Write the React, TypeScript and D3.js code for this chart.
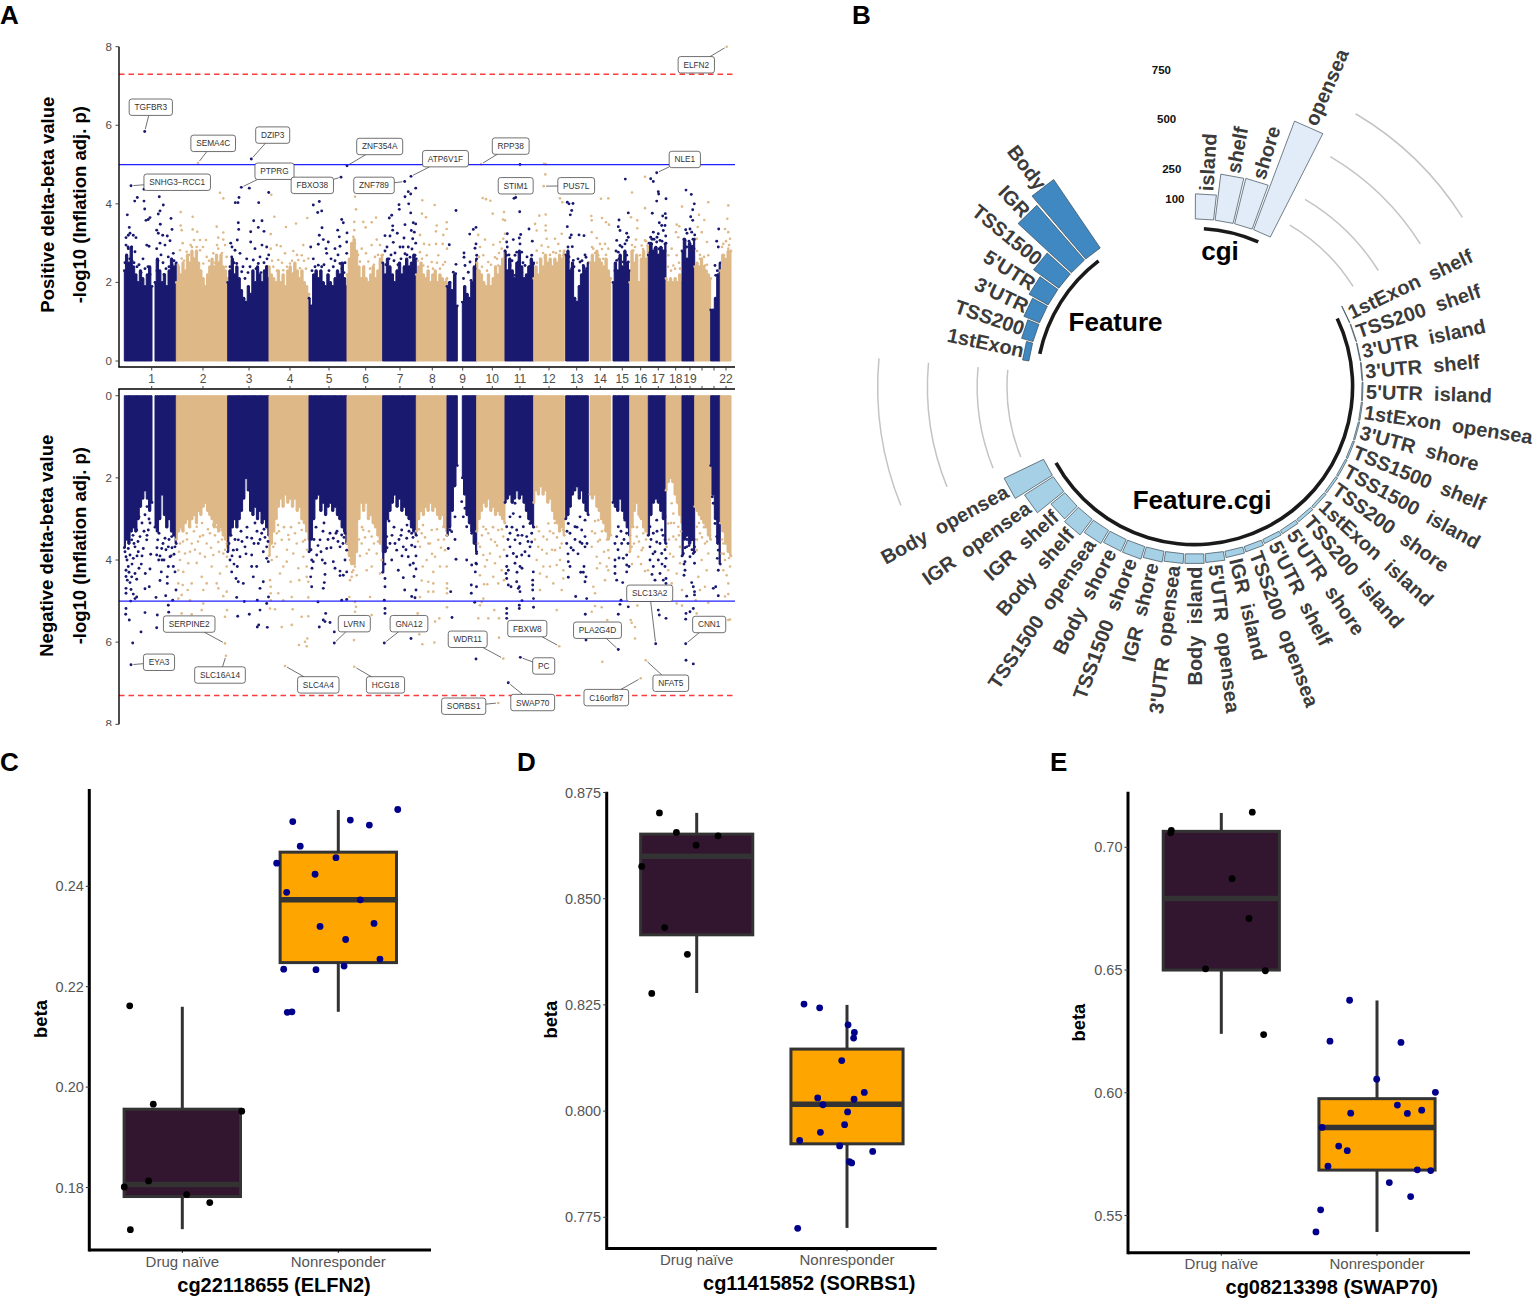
import * as d3 from 'd3'

const FONT = '"Liberation Sans", Arial, sans-serif'
const NAVY = '#191970'
const TAN = '#DEB887'

// Manhattan plots: position along the genome (0-616) and -log10 p
const chromLabels = ['1', '2', '3', '4', '5', '6', '7', '8', '9', '10', '11', '12', '13', '14', '15', '16', '17', '18', '19', '', '', '22']
const chromTicks = [32.7, 84, 130, 171, 210, 246.7, 281, 313.3, 343.7, 373.3, 401, 430, 457.7, 481.3, 503.3, 521.7, 539.3, 556.7, 571, 583, 595, 607]
const segRanges = [[5.3, 33], [36, 57.3], [57.3, 108.7], [108.7, 150], [150, 190], [190, 228], [228, 263.7], [263.7, 297.3], [297.3, 328], [328, 338.3], [343.3, 357.7], [357.7, 386], [386, 414.7], [414.7, 445.3], [446.7, 469.3], [471, 491.7], [494, 510.7], [510.7, 529.3], [529.3, 547], [547, 563], [563, 575.7], [575.7, 591.7], [591.7, 601.3], [601.3, 612]]
const segChrom = [1, 1, 2, 3, 4, 5, 6, 7, 8, 9, 9, 10, 11, 12, 13, 14, 15, 16, 17, 18, 19, 20, 21, 22]

// upper edge of the packed points in each chromosome segment
const topProfile = [
  [2.3, 2.7, 2.5, 2.9, 2.4, 2.2, 2.0, 2.3, 2.1, 1.9, 2.2, 2.4, 1.9],
  [2.0, 2.6, 2.3, 2.0, 2.2, 1.9, 2.3, 2.6, 2.4, 2.5],
  [2.0, 2.4, 2.2, 2.5, 2.3, 2.7, 2.5, 2.8, 2.6, 2.8, 2.5, 2.3, 2.1, 1.9, 2.2, 2.4, 2.6, 2.4, 2.7, 2.5, 2.7, 2.4, 2.3, 2.1],
  [2.0, 2.3, 2.6, 2.2, 2.4, 2.1, 1.8, 1.6, 1.5, 1.9, 1.7, 2.3, 2.0, 2.4, 2.2, 2.0, 2.3, 2.4, 2.1],
  [2.4, 2.2, 2.1, 2.0, 2.3, 2.0, 2.2, 1.9, 2.3, 2.4, 2.2, 2.5, 2.3, 2.1, 2.3, 2.0, 1.9, 1.7],
  [1.6, 1.4, 2.2, 2.3, 2.1, 2.3, 2.0, 1.9, 2.2, 2.0, 1.9, 2.1, 2.3, 2.2, 2.5, 2.1, 1.9],
  [2.2, 2.6, 3.0, 3.1, 2.8, 2.4, 2.1, 2.4, 2.1, 2.0, 2.2, 2.4, 2.1, 2.3, 2.6, 2.7],
  [2.5, 2.2, 2.6, 2.4, 2.2, 2.0, 2.3, 2.5, 2.2, 2.4, 2.6, 2.4, 2.5, 2.7, 2.6],
  [2.2, 2.4, 2.5, 2.2, 2.1, 2.3, 2.0, 2.2, 2.3, 2.0, 2.2, 2.1, 2.0, 2.1],
  [1.9, 2.0, 1.8, 2.2, 1.4],
  [1.5, 1.9, 1.7, 1.6, 2.0, 2.4, 2.6],
  [2.5, 2.3, 2.2, 2.0, 1.9, 2.2, 1.9, 2.1, 2.4, 2.2, 2.4, 2.6, 2.8],
  [2.8, 2.3, 2.6, 2.3, 2.1, 2.5, 2.8, 2.4, 2.1, 2.2, 2.4, 2.6, 2.5],
  [2.1, 2.4, 2.2, 2.6, 2.4, 2.7, 2.5, 2.6, 2.4, 2.6, 2.5, 2.7, 2.6, 2.8],
  [2.7, 2.8, 2.3, 2.5, 1.6, 1.5, 1.9, 2.2, 2.4, 2.3, 2.5],
  [2.5, 2.7, 2.5, 2.8, 2.6, 2.5, 2.4, 2.6, 2.3, 2.1],
  [2.0, 2.5, 2.3, 2.7, 2.4, 2.8, 2.5, 2.3],
  [2.0, 2.8, 2.5, 2.7, 2.0, 2.6, 2.8, 2.6, 2.9],
  [2.7, 3.0, 2.8, 2.9, 2.7, 2.9, 2.8, 3.0],
  [2.1, 2.0, 2.1, 2.0, 2.1, 2.0, 2.2, 2.0],
  [2.8, 3.1, 2.6, 3.0, 2.9, 3.1],
  [2.4, 2.5, 2.4, 2.6, 2.4, 2.3, 2.2, 2.1],
  [1.3, 1.3, 1.6, 2.2, 2.5],
  [2.3, 2.7, 2.6, 2.8, 2.8],
]

const bottomProfile = [
  [3.7, 3.5, 3.6, 3.3, 3.2, 3.3, 3.0, 2.7, 2.5, 2.3, 2.5, 2.8, 2.6],
  [3.2, 3.3, 3.0, 2.4, 2.9, 3.2, 3.0, 3.3, 3.4, 3.6],
  [3.5, 3.3, 3.2, 3.3, 3.1, 3.0, 3.2, 3.0, 2.9, 3.1, 2.8, 2.9, 2.7, 2.6, 2.8, 2.9, 3.0, 3.2, 3.1, 3.3, 3.2, 3.4, 3.5, 3.7],
  [3.8, 3.4, 3.2, 3.0, 3.2, 3.0, 2.8, 2.5, 2.0, 2.3, 2.8, 2.9, 2.7, 3.0, 2.8, 3.1, 3.0, 3.2, 3.4],
  [3.9, 3.6, 3.3, 3.0, 2.7, 2.5, 2.7, 2.4, 2.6, 2.5, 2.7, 2.5, 2.8, 2.7, 3.0, 3.1, 3.3, 3.5],
  [3.8, 3.5, 3.0, 2.5, 2.4, 2.8, 2.6, 2.9, 2.7, 2.6, 2.8, 2.7, 2.9, 3.0, 3.2, 3.3, 3.6],
  [3.6, 3.9, 4.1, 4.1, 3.8, 3.0, 2.6, 2.8, 2.6, 3.0, 2.9, 3.1, 3.2, 3.4, 3.6, 3.8],
  [4.3, 3.8, 3.0, 2.8, 2.6, 2.4, 2.7, 2.5, 2.8, 2.7, 2.9, 3.0, 3.2, 3.3, 3.4],
  [3.3, 3.0, 2.8, 2.9, 2.7, 2.8, 2.6, 2.8, 2.7, 2.9, 3.0, 2.9, 3.2, 3.3],
  [3.4, 3.2, 2.8, 2.2, 1.7],
  [2.0, 2.4, 2.9, 3.1, 3.3, 3.6, 3.8],
  [3.3, 3.0, 2.8, 2.6, 2.7, 2.5, 2.8, 2.7, 2.9, 2.8, 2.9, 3.0, 3.1],
  [2.6, 2.5, 2.4, 2.6, 2.5, 2.3, 2.5, 2.4, 2.6, 2.8, 3.0, 3.1, 3.2],
  [2.6, 2.3, 2.4, 2.2, 2.4, 2.3, 2.6, 2.5, 2.8, 3.0, 3.1, 3.3, 3.2, 3.4],
  [3.0, 2.9, 2.7, 2.4, 2.3, 2.2, 2.5, 2.3, 2.6, 2.8, 2.9],
  [2.4, 2.5, 2.4, 2.7, 2.8, 3.0, 3.1, 3.3, 3.5, 3.4],
  [2.6, 2.7, 2.8, 2.5, 2.8, 3.0, 3.2, 3.4],
  [3.8, 3.2, 2.8, 2.6, 2.9, 3.0, 3.2, 3.3, 3.4],
  [3.4, 2.9, 2.6, 2.5, 2.6, 2.8, 3.0, 3.6],
  [2.3, 2.1, 2.0, 2.1, 2.4, 2.6, 2.9, 3.1],
  [3.9, 3.5, 3.4, 3.6, 3.5, 3.8],
  [2.7, 2.8, 2.9, 3.0, 3.1, 3.2, 3.4, 3.5],
  [1.7, 2.4, 3.0, 3.6, 4.1],
  [3.1, 3.3, 3.6, 3.8, 3.9],
]

const topNavy = [
  [25.7, 5.84], [12, 4.46], [25, 4.37], [132.3, 5.14], [122.3, 4.42], [130.3, 4.4], [149.7, 4.29], [222, 4.68], [228, 4.97],
  [8.3, 3.72], [10.3, 3.4], [15.7, 4.07], [18.3, 4.16], [25, 4.07], [25.7, 3.87], [27, 3.58], [31, 3.65], [29.3, 3.6], [40.3, 4.18], [44.3, 3.97], [41, 3.82], [39.3, 3.74], [52, 3.63], [41.3, 3.48], [53, 3.35], [37.7, 3.33], [39.3, 3.25], [43.7, 3.2], [48.3, 3.18], [9.3, 3.2], [14.3, 3.2], [17, 3.14], [11, 3.25], [7, 3.14], [7, 2.95], [9.3, 2.86], [12.7, 2.9], [16, 2.78], [27.7, 2.95], [30, 2.92], [41, 3], [37.7, 2.86], [46, 2.95], [51, 3.06], [54.3, 2.74], [49.3, 2.65], [8, 2.6], [13, 2.55], [20, 2.45], [24, 2.6], [29, 2.4], [39, 2.55], [44, 2.5], [53, 2.45], [47, 2.35],
  [6, 2.5], [9, 2.9], [11, 2.6], [15, 2.5], [18, 2.4], [22, 2.25], [26, 2.35], [31, 2.2], [38, 2.3], [42, 2.7], [45, 2.2], [50, 2.4], [55, 2.55],
  [119, 4.03], [120, 4.16], [116.3, 4.03], [119.3, 3.52], [119.7, 3.35], [134.7, 3.57], [143, 3.57], [139.3, 3.4], [131.7, 3.29], [145, 3.3], [139.7, 4.03], [118.3, 3.08], [111.7, 3], [131.7, 3.03], [143, 2.95], [147.7, 2.9], [136, 2.86], [116, 2.82], [121, 2.74], [112.7, 2.65], [149.7, 2.7], [127.7, 2.6], [134.3, 2.57], [139.3, 2.48], [147.7, 2.4], [117.7, 2.48], [111, 2.4], [131, 2.4], [122.7, 2.27], [126, 2.1], [142, 2.25],
  [113, 2.9], [115, 2.5], [124, 2.4], [129, 2.25], [137, 2.35], [141, 2.65], [145, 2.5], [148, 2.6],
  [194.3, 3.97], [200.3, 4.06], [198.7, 3.78], [202.7, 3.82], [222.7, 3.6], [224.3, 3.52], [203, 3.39], [218.7, 3.33], [228, 3.26], [220.3, 3.16], [200.3, 3.2], [204.3, 3.09], [216, 2.86], [191.7, 2.9], [199.3, 2.97], [209.3, 3.03], [227.7, 3.03], [221, 2.92], [207, 2.86], [227.7, 2.74], [194.3, 2.6], [207.7, 2.74], [199.3, 2.44], [221, 2.48], [214.3, 2.4], [202.7, 2.4], [210, 2.3], [225, 2.25],
  [193, 2.3], [196, 2.4], [205, 2.45], [212, 2.6], [216, 2.55], [219, 2.7], [223, 2.35], [226, 2.5],
  [280, 3.98], [280.3, 3.86], [270.3, 3.64], [272.7, 3.71], [273.7, 3.44], [266, 3.19], [271, 3.18], [273.7, 3.33], [278.3, 3.25], [274.3, 3.02], [266, 2.8], [292, 4.7], [285.7, 4.57], [296.7, 4.4], [289.3, 4.31], [291.7, 4.25], [286, 4.18], [289.7, 4], [291.7, 3.77], [294.3, 3.52], [296.7, 3.49], [286, 3.47], [292.3, 3.32], [295.3, 3.28], [285, 3.13], [293.7, 3.11], [296.7, 3], [289.3, 2.9], [296, 2.69], [286, 2.73], [291, 2.64], [270, 2.6], [276, 2.75], [282, 2.6], [267, 2.45], [279, 2.45],
  [268, 2.9], [272, 2.7], [275, 2.55], [281, 2.9], [284, 2.9], [288, 2.7], [293, 2.85], [295, 2.55],
  [337, 3.83], [330.3, 2.96], [337, 2.46], [334.3, 2.26], [336.7, 2.22], [331, 2], [357, 3.4], [354.3, 3.35], [350.7, 3.23], [357, 2.98], [356, 2.87], [345, 2.75], [345, 2.64], [357.7, 2.69], [351, 2.52], [346, 2.43], [356, 2.35], [349.3, 2.26], [344.5, 2.1], [352, 2.05],
  [401, 5], [395, 4.14], [396.7, 4.16], [400.7, 3.8], [410, 3.36], [388.3, 3.24], [401.7, 3.22], [394.3, 3.09], [400.3, 3.13], [387.7, 3.03], [413.3, 3.05], [388.3, 2.9], [401, 2.98], [397.7, 2.77], [396, 2.69], [412.7, 2.69], [387.7, 2.69], [402.7, 2.77], [412.7, 2.56], [391, 2.43], [399.3, 2.52], [406, 2.43], [414.3, 2.47], [389.3, 2.26], [396, 2.18], [409.3, 2.18], [402.7, 2.26],
  [390, 2.7], [393, 2.55], [398, 2.35], [404, 2.5], [408, 2.65], [411, 2.4],
  [448.3, 4.04], [450, 4], [454, 4.01], [452.7, 3.83], [451.3, 3.72], [448.3, 3.42], [452.3, 3.21], [451, 3.14], [460, 3.21], [465, 3.19], [449, 2.9], [453.3, 2.91], [448.7, 2.69], [454.3, 2.56], [449.3, 2.52], [467, 2.64], [461, 2.52], [464.3, 2.43], [467.7, 2.35], [452.7, 2.35], [460.3, 2.3], [462.7, 2.18],
  [450, 2.65], [455, 2.4], [463, 2.55], [466, 2.7], [459, 2.6],
  [506.3, 4.63], [509.3, 3.77], [500, 3.59], [499.3, 3.42], [501, 3.32], [507.7, 3.25], [509.3, 3.15], [507.7, 3.07], [497.7, 3.07], [501, 2.94], [506, 2.98], [499.3, 2.77], [507.7, 2.69], [497.7, 2.56], [504.3, 2.52], [509.3, 2.52], [496, 2.3], [502.7, 2.35], [509.3, 2.26],
  [497, 2.8], [500, 2.6], [503, 2.9], [506, 2.6],
  [531.7, 4.64], [534.3, 4.57], [537.7, 4.79], [539.3, 4.31], [539.7, 4.25], [537.7, 4.07], [547, 4.13], [533.3, 3.76], [546.3, 3.75], [543.7, 3.69], [547, 3.64], [540.3, 3.52], [542.7, 3.45], [546, 3.45], [534.3, 3.28], [531.7, 3.15], [539.3, 3.24], [544.3, 3.32], [546.7, 3.18], [532.7, 2.98], [537.7, 3.03], [541, 3.07], [546, 2.98], [531, 2.77], [536, 2.86], [542.7, 2.81], [544.3, 2.69],
  [530, 3], [533, 3.1], [535, 3.1], [538, 3.15], [540, 2.85], [543, 3.05], [546, 2.8],
  [567, 4.35], [572.3, 4.24], [575.3, 4], [573.7, 3.85], [571.7, 3.67], [573.7, 3.58], [566.7, 3.34], [571, 3.36], [572.7, 3.28], [575.7, 3.21], [566, 3.07], [567.7, 2.9], [572.7, 2.92], [575, 2.86], [565, 2.77],
  [565, 3.1], [568, 3.25], [570, 3.05], [574, 3.1],
  [599.7, 3.36], [597.7, 3.05], [599.3, 2.9], [596, 2.43], [598.3, 2.3], [596.7, 2.18],
]

const topTan = [
  [79, 5.04], [101, 4.28], [104.3, 4.14], [61.7, 3.79], [73.7, 3.67], [61.7, 3.45], [62.7, 3.33], [73.7, 3.35], [78.3, 3.29], [97.7, 3.42], [104.3, 3.27], [99.3, 3.14], [104.3, 3.09], [81, 3.08], [75, 3.08], [87, 3.08], [63.7, 3], [71.7, 2.95], [77.7, 2.9], [99.3, 2.86], [106, 2.95], [61, 2.82], [67.7, 2.78], [81, 2.82], [94.3, 2.74], [107.7, 2.65], [87.7, 2.65], [62.7, 2.61], [74.3, 2.61], [101, 2.53], [84.3, 2.48], [92.7, 2.4],
  [59, 2.45], [65, 2.55], [70, 2.7], [73, 2.9], [78, 2.75], [84, 2.9], [90, 2.55], [96, 2.5], [98, 2.95], [103, 2.75], [107, 2.4],
  [152.3, 4.23], [155.3, 3.67], [167, 3.41], [177, 3.5], [188.3, 3.64], [151.7, 3.23], [151.7, 2.86], [157.7, 2.95], [161.7, 2.92], [166, 2.74], [174.3, 2.8], [184.3, 2.95], [182.7, 2.69], [189.3, 2.61], [179.3, 2.57], [171, 2.48], [159.3, 2.57], [154.3, 2.4], [164.3, 2.31], [181, 2.36], [174.3, 2.23],
  [153, 2.55], [158, 2.3], [163, 2.5], [168, 2.4], [173, 2.55], [178, 2.7], [185, 2.55], [187, 2.35],
  [236, 4.18], [237, 3.86], [235.3, 3.54], [235.3, 3.33], [244.3, 3.54], [252.7, 3.53], [257, 3.65], [246.7, 3.4], [234.3, 3.16], [236, 2.99], [257.7, 3.09], [242.7, 2.86], [252.7, 2.95], [261, 2.95], [247, 2.74], [256, 2.65], [262.7, 2.69], [241, 2.53], [249.3, 2.53],
  [231, 2.4], [239, 2.7], [245, 2.4], [251, 2.35], [255, 2.45], [259, 2.7],
  [303.3, 4.09], [315.7, 3.97], [303, 3.75], [307, 3.66], [327.7, 3.53], [317.7, 3.45], [317, 3.3], [327.7, 3.36], [301, 3.21], [324.3, 3.21], [305, 2.98], [310.3, 2.96], [317, 2.98], [323.7, 2.98], [328, 2.86], [301, 2.77], [307.7, 2.69], [319.3, 2.69], [312.7, 2.52], [326, 2.52], [304.3, 2.43], [321, 2.35],
  [299, 2.55], [303, 2.6], [309, 2.4], [314, 2.35], [318, 2.5], [324, 2.45],
  [362, 5.01], [363.7, 4.15], [367, 4.12], [371.3, 4.08], [373.7, 3.75], [385, 3.79], [384, 3.6], [386, 3.58], [359.3, 3.21], [366, 3.09], [386, 3.24], [384.3, 3.11], [361, 2.9], [374.3, 2.96], [381, 3.03], [364.3, 2.69], [376, 2.64], [382.7, 2.86], [369.3, 2.52], [379.3, 2.43],
  [360, 2.65], [363, 2.4], [368, 2.3], [372, 2.45], [378, 2.6], [380, 2.75],
  [425, 5.02], [426.7, 5.01], [426.3, 4.75], [424.7, 4.45], [441, 4.14], [443.3, 4.04], [420.3, 3.7], [426.7, 3.73], [416, 3.49], [426.7, 3.45], [426.7, 3.32], [417.7, 3.32], [442.7, 3.24], [436, 3.11], [427.7, 3.11], [422.7, 2.94], [417.7, 2.81], [429.3, 2.9], [439.3, 2.98], [434.3, 2.77], [444.3, 2.69], [421, 2.6], [426, 2.64],
  [418, 2.5], [424, 2.75], [431, 2.7], [437, 2.75], [441, 2.8],
  [482, 4.13], [489.3, 4.14], [472.3, 3.69], [472.7, 3.58], [483, 3.64], [487, 3.53], [490, 3.47], [472.7, 3.28], [477.7, 3.13], [481, 2.98], [486, 2.98], [474.3, 2.86], [489.3, 2.86], [479.3, 2.69], [484.3, 2.6], [472.7, 2.52],
  [473, 2.9], [476, 2.75], [483, 2.85], [487, 2.7],
  [513, 4.29], [526, 4.69], [526, 3.89], [512, 3.66], [518.3, 3.58], [518.3, 3.38], [517, 3.09], [526, 3.07], [514.3, 2.81], [522.7, 2.94], [528.3, 2.94], [521, 2.69],
  [513, 2.95], [516, 2.9], [524, 2.85], [527, 3.05],
  [557.7, 3.47], [560.3, 3.43], [557, 3.28], [559.3, 3.15], [563, 3.93], [552.7, 2.86], [557.7, 2.69], [549.3, 2.69], [554.3, 2.43], [561, 2.35],
  [549, 2.4], [552, 2.3], [556, 2.35], [560, 2.5],
  [589.3, 4.04], [580, 3.72], [585.3, 3.59], [578.7, 3.41], [582.7, 3.28], [588, 3.03], [577.7, 3.11], [589.3, 2.69], [581, 2.6], [586, 2.43], [579.3, 2.35],
  [578, 2.8], [581, 2.7], [585, 2.65], [588, 2.45],
  [609.3, 3.96], [608.3, 3.62], [606, 3.36], [609.3, 3.28], [604.3, 2.98], [611, 3.11], [609.3, 2.86], [605, 2.69], [611, 2.52], [607.7, 8],
  [603, 2.9], [607, 3.05], [610, 2.95],
]

const bottomNavy = [
  [12, 6.55], [215.3, 6.02], [265.3, 6.02], [13.7, 6.02],
  [7, 5.18], [6.7, 5.32], [10.3, 5.46], [11.7, 5], [22, 5.75], [26, 5.28], [7, 4.69], [7, 4.81], [12, 4.72], [14.3, 4.83], [17.7, 4.9], [16, 4.94], [26, 4.7], [30.3, 4.65], [8.3, 4.49], [12.7, 4.41], [17.7, 4.47], [7, 4.25], [9.3, 4.16], [16, 4.33], [22.3, 4.1], [26.3, 4.33], [31, 4.22], [14.3, 3.96], [7, 3.92], [11, 3.88], [19.3, 3.8], [31.7, 3.86], [24.3, 3.72], [16, 3.68], [9.3, 3.72], [27.7, 3.51], [21, 3.43], [12.7, 3.51], [17.7, 3.27], [29.3, 3.27], [23, 3.1], [26, 2.9], [30, 3.0], [20, 2.95], [28, 2.7],
  [6, 3.8], [8, 4.0], [10, 4.3], [13, 4.1], [15, 3.6], [18, 3.9], [20, 4.2], [23, 3.9], [25, 3.3], [28, 3.4], [31, 3.1], [7, 4.4], [11, 4.55], [14, 3.4], [19, 3.55],
  [37, 4.91], [46.7, 4.87], [53.7, 4.98], [57, 4.73], [48.3, 4.57], [48.3, 4.41], [41, 4.5], [42.3, 4.29], [54.3, 4.16], [56, 4.29], [49.3, 4.16], [39.7, 4], [45, 4], [51, 3.92], [37.7, 3.88], [55, 3.86], [42.7, 3.72], [49.3, 3.68], [56, 3.68], [38.7, 3.51], [46, 3.47], [52.7, 3.43], [38.3, 5.34], [49.3, 5.1], [49.7, 5.27], [37.7, 5.65],
  [38, 3.7], [41, 3.9], [44, 3.6], [47, 3.75], [50, 3.5], [53, 3.7], [40, 3.35], [52, 3.9], [43, 4.0],
  [117.7, 4.91], [118.7, 5.37], [130.3, 5.32], [138.3, 5.63], [139.7, 5.58], [141, 5.22], [148.3, 5.64], [147.7, 5.06], [138.3, 4.98], [125.3, 5.01], [149.5, 4.9], [144.3, 4.53], [141, 4.69], [117, 4.45], [119.3, 4.53], [124.3, 4.57], [112.7, 4.29], [118.3, 4.16], [132.7, 4.16], [137.7, 4.16], [134.3, 4.41], [147.7, 3.96], [149.3, 4.04], [111, 4], [121, 3.92], [132.7, 3.88], [144.3, 3.8], [114.3, 3.76], [126, 3.68], [139.3, 3.6], [147.7, 3.68], [119.3, 3.51], [132.7, 3.47], [112, 3.4], [142.7, 3.35], [128, 3.2], [136, 3.1], [145, 3.25], [122, 3.3],
  [110, 3.6], [113, 3.9], [116, 3.5], [118, 3.75], [123, 3.55], [128, 3.45], [135, 3.6], [138, 3.3], [141, 3.5], [146, 3.45], [149, 3.55], [127, 3.85], [115, 4.1],
  [199, 5.02], [206.7, 5.3], [200.3, 5.63], [204.3, 5.46], [206, 5.5], [211, 5.52], [215.3, 5.75], [222.7, 4.98], [227.7, 4.96], [204.3, 4.69], [205.3, 4.55], [206, 4.35], [227.7, 4.29], [221, 4.27], [221, 4.38], [224.3, 4.37], [192.7, 4], [194.3, 4.04], [203.3, 4], [206, 4.08], [214.3, 4.04], [226, 4], [216, 4.2], [197.7, 3.88], [207.7, 3.72], [221, 3.68], [227.7, 3.76], [201, 3.51], [214.3, 3.47], [211, 3.35], [222.7, 3.39], [192.7, 4.65], [191.7, 4.41], [197, 3.2], [205, 3.1], [218, 3.3], [225, 3.45],
  [192, 3.75], [195, 3.5], [199, 3.65], [204, 3.3], [209, 3.5], [212, 3.7], [217, 3.35], [219, 3.55], [224, 3.6], [226, 3.35], [202, 3.8], [193, 4.2],
  [266, 4.45], [266, 4.65], [265.3, 4.98], [266, 5.18], [266, 5.3], [279.3, 4.25], [272.7, 4], [277.7, 3.76], [271, 3.6], [267.7, 3.43], [292, 5.91], [292.7, 4.89], [296, 4.92], [284.3, 4.43], [297, 4.22], [291, 4.12], [294.3, 4.08], [285.7, 4.73], [297, 4.73], [289.3, 3.92], [284.3, 3.68], [292.7, 3.64], [296, 3.68], [287.7, 3.47], [292.7, 3.35], [282.7, 3.27], [275, 3.2], [270, 3.05], [288, 3.15],
  [266, 4.1], [268, 3.7], [273, 3.4], [276, 3.6], [280, 3.5], [283, 3.9], [287, 3.75], [290, 3.3], [294, 3.45], [297, 3.9], [282, 3.4], [295, 4.4],
  [333, 5.4], [331.7, 4.77], [357, 6.41], [355.7, 5.03], [352.3, 4.61], [352.3, 4.81], [357.5, 4.65], [356.3, 4.29], [357.5, 4.1], [357, 4.08], [347.7, 4], [352.7, 4.12], [357.5, 3.84], [329.3, 3.72], [337, 3.98], [336, 3.5], [331, 3.27], [332.7, 3.31], [329.3, 2.99], [336, 2.95], [331, 2.62], [344.3, 2.95], [347.7, 3.19], [352.7, 3.35], [356, 3.51], [346, 2.74], [351, 2.95], [342.7, 2.58],
  [387.7, 5.18], [387.7, 5.3], [387.7, 5.42], [400.3, 5.1], [400.3, 5.18], [403, 4.99], [414.5, 5.15], [414.5, 4.94], [401.3, 6.37], [389.3, 6.99], [389.3, 4.61], [392, 4.65], [397.7, 4.53], [400.3, 4.65], [401, 4.77], [399.3, 4.69], [413.7, 4.49], [413.7, 4.61], [413.7, 4.73], [387.7, 4.45], [387, 4.33], [387.7, 4.16], [389.3, 4.25], [396, 4.08], [401, 4.16], [397.7, 3.92], [394.3, 3.84], [402.7, 3.88], [412.7, 3.56], [411, 3.68], [414.3, 4.29], [391, 3.68], [396, 3.51], [401, 3.6], [407.7, 3.43], [412.7, 3.35], [391, 3.35], [397.7, 3.27], [404.3, 3.19], [387.7, 3.19], [411, 3.11], [394.3, 2.87], [401, 2.95], [407.7, 2.78], [391, 2.95], [396, 2.62],
  [389, 3.5], [393, 3.2], [399, 3.4], [403, 3.4], [406, 3.8], [409, 3.55], [388, 3.9], [398, 4.3], [403, 4.2], [410, 3.9],
  [456.7, 4.89], [467.7, 4.94], [466.3, 5.32], [467, 5.95], [449.3, 4.42], [451, 4.16], [449.3, 4.04], [466, 4.53], [467, 4.41], [464.3, 4.3], [461.7, 4.3], [465, 4.16], [454.3, 3.76], [466, 3.68], [461, 3.56], [447.7, 3.6], [451, 3.35], [462.7, 3.27], [466, 3.43], [456, 3.19], [449.3, 3.11], [461, 2.95], [466, 3.03],
  [448, 3.3], [452, 3.7], [456, 3.5], [459, 3.85], [463, 3.6], [468, 3.6], [449, 3.85], [458, 3.2],
  [499.3, 6.18], [501, 5.08], [502, 4.98], [499.3, 5.32], [509.3, 5.14], [503.7, 4.55], [497.7, 4.49], [496, 4.33], [496, 4.16], [496, 4], [507.7, 4.29], [510, 4.16], [507.7, 3.88], [504.3, 3.96], [507.7, 4.12], [502.7, 3.6], [507.7, 3.35], [497.7, 3.43], [499.3, 3.19], [506, 3.03],
  [496, 3.6], [499, 3.75], [502, 3.3], [505, 3.5], [509, 3.6], [500, 3.95],
  [536.7, 6.04], [539.3, 5.22], [540.3, 5.34], [547, 5.42], [547, 4.45], [547, 4.57], [536, 4.49], [544.3, 4.49], [541, 4.33], [546, 4.16], [534.3, 4.16], [531, 4], [539.3, 4], [547, 3.96], [536, 3.8], [542.7, 3.84], [531, 3.68], [537.7, 3.56], [546, 3.51], [534.3, 3.35], [542.7, 3.27], [531, 3.19], [537.7, 3.03], [546, 2.95],
  [532, 3.5], [534, 3.85], [538, 3.3], [541, 3.6], [544, 3.4], [546, 3.75], [533, 4.35], [543, 4.1],
  [566.7, 6.04], [567, 6.44], [574.3, 6.53], [566.7, 5.44], [567, 5.3], [571, 5.26], [574.3, 5.18], [567.7, 4.88], [572.7, 4.55], [574.3, 4.65], [575.5, 4.77], [575.5, 4.85], [565, 4.37], [566, 4.25], [575.5, 4.08], [566, 4.04], [571, 3.92], [574.3, 3.84], [564.3, 3.84], [567.7, 3.68], [575.5, 3.68], [572.7, 3.51], [566, 3.43],
  [565, 4.1], [568, 3.5], [570, 3.65], [573, 3.75], [575, 3.5], [566, 3.7],
  [594.3, 4.69], [596.7, 4.65], [599.3, 4.25], [599.3, 4.87], [598.3, 3.96], [599.3, 3.76], [597.7, 3.43], [596, 3.11], [593.3, 2.46], [594.3, 2.62], [597.7, 2.87], [599.3, 3.27],
]

const bottomTan = [
  [106, 6.03], [107, 6.33], [166, 6.58], [235.3, 6.6], [384.3, 6.4], [440.3, 6.1], [483.3, 6.48], [526.7, 6.44], [521.7, 6.88], [379.3, 7.48],
  [59.3, 4.94], [62.7, 4.85], [68.7, 4.73], [59.3, 4.57], [63.7, 4.61], [72.7, 4.57], [82.7, 4.41], [87.7, 4.57], [84.3, 4.73], [97.7, 4.57], [107.7, 4.77], [104.3, 4.88], [99.3, 4.69], [59.3, 4.25], [64.3, 4.29], [77.7, 4.07], [86, 3.92], [92.7, 4.16], [101, 4.33], [107.7, 4.16], [62.7, 5.3], [72.7, 5.32], [82.7, 5.22], [106, 5.38], [108, 5.22], [84.3, 5.06], [71, 4.98], [61, 4], [69.3, 4.08], [81, 3.84], [94.3, 3.88], [104.3, 3.84], [108, 3.92], [66, 3.84], [72.7, 3.6], [87.7, 3.6], [99.3, 3.56], [107.7, 3.6], [61, 3.6], [81, 3.43], [91, 3.35], [67.7, 3.35], [102.7, 3.27], [77.7, 3.19], [94.3, 3.15],
  [60, 3.8], [64, 3.55], [68, 3.5], [71, 3.8], [75, 3.3], [79, 3.55], [84, 3.4], [89, 3.25], [92, 3.7], [96, 3.4], [100, 3.8], [103, 3.5], [106, 3.75], [63, 3.25], [70, 3.15], [83, 3.1], [98, 3.2], [76, 3.75],
  [151.7, 4.65], [151.7, 4.81], [151.7, 4.98], [151, 5.18], [156, 5.2], [173.7, 5.2], [182.7, 5.38], [189.3, 5.37], [162.7, 5.63], [172.7, 5.58], [180, 6.07], [186, 5.99], [188.3, 5.91], [187.7, 6.1], [172.7, 4.9], [189.3, 4.91], [164.3, 4.98], [159.3, 4.81], [171.7, 4.53], [180.3, 4.49], [187.7, 4.41], [189.3, 4.53], [151, 4.49], [161, 4.33], [164.3, 4.16], [179.3, 4.2], [187.7, 4.16], [152.7, 4], [157.7, 3.92], [167.7, 4.04], [174.3, 3.84], [184.3, 3.92], [154.3, 3.68], [162.7, 3.51], [177.7, 3.6], [186, 3.51], [169.3, 3.39], [182.7, 3.27], [157.7, 3.35],
  [153, 3.55], [156, 3.6], [160, 3.3], [165, 3.2], [170, 3.5], [172, 3.2], [176, 3.35], [180, 3.1], [184, 3.55], [188, 3.75], [159, 3.15], [168, 3.75],
  [236, 5.26], [237, 5.14], [236, 5.02], [235, 5.95], [232.7, 4.41], [237.7, 4.37], [231, 4.49], [230.3, 4.9], [251, 4.9], [252.7, 5.34], [247.7, 4.25], [252.7, 4.16], [261, 4.33], [257.7, 3.84], [262.7, 4], [247.7, 3.84], [242.7, 3.6], [252.7, 3.43], [261, 3.35], [244.3, 3.27], [234.3, 4.25], [236, 4.16],
  [231, 4], [233, 4.3], [240, 3.5], [243, 3.2], [246, 3.45], [250, 3.3], [255, 3.6], [259, 3.55], [241, 3.9], [250, 3.75],
  [298.7, 5.3], [320.3, 5.42], [316, 5.5], [300.3, 5.81], [303.3, 6.05], [315.3, 6.01], [328, 5.15], [328, 4.57], [328, 4.69], [328, 4.81], [302.7, 4.5], [309.3, 4.53], [314.3, 4.57], [314.3, 4.29], [309.3, 4.77], [314.3, 4.77], [301, 4.9], [303.7, 4.16], [321, 4.16], [327.7, 4.16], [307.7, 4], [316, 3.92], [326, 3.76], [301, 3.68], [309.3, 3.6], [319.3, 3.51], [302.7, 3.35], [312.7, 3.27], [324.3, 3.19],
  [299, 3.55], [304, 3.15], [306, 3.45], [311, 3.6], [313, 3.85], [318, 3.25], [322, 3.7], [325, 3.5], [300, 3.25], [328, 3.4],
  [380, 5.89], [375.3, 5.22], [369.3, 5.42], [380, 5.42], [359.3, 5.42], [361, 5.1], [364.3, 4.94], [362.7, 5.02], [368.3, 4.59], [365, 4.59], [361, 4.37], [379.3, 4.57], [385, 4.49], [374.3, 4.41], [382.7, 4.25], [366, 4.16], [376, 4.08], [364.3, 3.88], [371, 3.84], [381, 3.92], [361, 3.68], [376, 3.56], [384.3, 3.43], [369.3, 3.35], [379.3, 3.27], [364.3, 3.19],
  [359, 3.6], [363, 3.4], [367, 3.25], [372, 3.5], [374, 3.2], [378, 3.65], [383, 3.25], [385, 3.75], [368, 4.0], [358, 3.85],
  [424.3, 4.16], [431, 4.16], [437.7, 4.12], [442.7, 4.73], [444.3, 4.45], [437.7, 5.22], [421, 4.73], [427.7, 4.41], [434.3, 4.57], [421, 4.33], [444.3, 4.25], [441, 4], [417.7, 4], [427.7, 3.84], [436, 3.76], [419.3, 3.68], [442.7, 3.6], [424.3, 3.43], [434.3, 3.35], [444.3, 3.27], [417.7, 3.19], [429.3, 3.11], [439.3, 3.03],
  [416, 3.5], [420, 3.3], [423, 3.75], [428, 3.5], [431, 3.3], [433, 3.75], [438, 3.45], [441, 3.7], [436, 3.1],
  [472.7, 5.26], [476, 5.12], [482.7, 5.15], [488.3, 5.46], [474.3, 4.65], [476, 4.81], [486, 4.49], [489.3, 4.25], [487.7, 4.16], [481, 4.08], [477.7, 3.92], [472.7, 3.68], [489.3, 3.76], [481, 3.51], [476, 3.35], [486, 3.27], [491, 3.19], [479.3, 3.03],
  [473, 3.3], [476, 3.05], [479, 3.55], [483, 3.3], [485, 3.8], [488, 3.5], [490, 3.95], [478, 4.2],
  [511.7, 5.46], [512.7, 5.53], [516, 5.63], [516, 5.91], [518.3, 5.11], [526, 4.27], [529, 4.25], [519.3, 3.92], [522.7, 3.76], [512.7, 3.68], [517.7, 3.43], [524.3, 3.35], [514.3, 3.19], [526, 3.19], [521, 2.95],
  [515, 3.6], [518, 3.2], [520, 3.55], [524, 3.7], [527, 3.5], [513, 4.1], [522, 4.1],
  [557.7, 5.06], [563, 5.11], [563, 4.73], [552.7, 4.57], [557.7, 4.33], [549.3, 4.25], [561, 4.08], [554.3, 3.92], [547.7, 3.68], [561, 3.68], [554.3, 3.43], [549.3, 3.11], [559.3, 3.19], [554.3, 2.87], [552.7, 2.62], [559.3, 2.62],
  [550, 3.5], [552, 3.1], [555, 3.1], [557, 3.5], [560, 3.4], [562, 3.3], [551, 3.85],
  [577.7, 5.3], [589.3, 5.04], [576.7, 4.98], [581, 4.73], [586, 4.65], [579.3, 4.41], [587.7, 4.25], [582.7, 4], [589.3, 3.84], [577.7, 3.76], [586, 3.6], [581, 3.35], [589.3, 3.27], [577.7, 3.19],
  [578, 3.5], [580, 3.1], [583, 3.45], [585, 3.2], [588, 3.55], [591, 3.4],
  [609.3, 5.46], [611, 5.45], [609.3, 4.83], [606, 4.89], [609.3, 4.57], [607.7, 4.37], [604.3, 4.25], [611, 4.16], [606, 4], [602.7, 3.84], [609.3, 3.76], [604.3, 3.6], [611, 3.51],
  [603, 3.5], [605, 3.85], [608, 3.4], [610, 3.95], [611, 3.7],
]

// gene, point position, point value, label position, label value
const topGenes: [string, number, number, number, number][] = [
  ['TGFBR3', 25.7, 5.84, 31.8, 6.46], ['SEMA4C', 79, 5.04, 94.2, 5.54], ['DZIP3', 132.3, 5.14, 153.7, 5.75],
  ['ZNF354A', 228, 4.97, 260.7, 5.46], ['SNHG3−RCC1', 12, 4.46, 58.2, 4.55], ['PTPRG', 122.3, 4.42, 155.5, 4.83],
  ['FBXO38', 222, 4.68, 193.3, 4.47], ['ZNF789', 285.7, 4.57, 255, 4.47], ['ATP6V1F', 292, 4.7, 326.5, 5.15],
  ['RPP38', 362, 5.01, 391.7, 5.47], ['STIM1', 396.7, 4.16, 396.7, 4.46], ['PUS7L', 424.7, 4.45, 457.2, 4.46],
  ['NLE1', 537.7, 4.79, 565.8, 5.13], ['ELFN2', 607.7, 8, 577.3, 7.54],
]
const bottomGenes: [string, number, number, number, number][] = [
  ['SERPINE2', 106, 6.03, 70.2, 5.56], ['EYA3', 12, 6.55, 40, 6.49], ['SLC16A14', 107, 6.33, 101, 6.8],
  ['SLC4A4', 166, 6.58, 199.3, 7.04], ['LVRN', 215.3, 6.02, 235.3, 5.55], ['HCG18', 235.3, 6.6, 266.5, 7.04],
  ['GNA12', 265.3, 6.02, 290, 5.55], ['WDR11', 384.3, 6.4, 348.7, 5.93], ['FBXW8', 440.3, 6.1, 408.3, 5.67],
  ['PC', 401.3, 6.37, 424.7, 6.58], ['SWAP70', 389.3, 6.99, 413.7, 7.47], ['SORBS1', 379.3, 7.48, 344.7, 7.56],
  ['PLA2G4D', 499.3, 6.18, 478.5, 5.71], ['SLC13A2', 536.7, 6.04, 530.7, 4.81], ['C16orf87', 521.7, 6.88, 487.3, 7.35],
  ['NFAT5', 526.7, 6.44, 551.8, 7], ['CNN1', 566.7, 6.04, 590.2, 5.57],
]

// Circular bar chart, slots run clockwise from the cgi group
const cgiNames = ['island', 'shelf', 'shore', 'opensea']
const cgiCounts = [126, 233, 235, 583]
const featureCgiNames = ['1stExon  shelf', 'TSS200  shelf', "3'UTR  island", "3'UTR  shelf", "5'UTR  island", '1stExon  opensea', "3'UTR  shore", 'TSS1500  shelf', 'TSS1500  island', 'TSS200  shore', '1stExon  island', 'TSS200  island', "5'UTR  shore", "5'UTR  shelf", 'TSS200  opensea', 'IGR  island', "5'UTR  opensea", 'Body  island', "3'UTR  opensea", 'IGR  shore', 'TSS1500  shore', 'Body  shore', 'TSS1500  opensea', 'Body  shelf', 'IGR  shelf', 'IGR  opensea', 'Body  opensea']
const featureCgiCounts = [2, 3, 3, 4, 5, 6, 7, 8, 9, 11, 13, 16, 20, 22, 28, 32, 44, 48, 49, 55, 66, 65, 77, 100, 90, 171, 220]
const featureNames = ['1stExon', 'TSS200', "3'UTR", "5'UTR", 'TSS1500', 'IGR', 'Body']
const featureCounts = [32, 60, 85, 110, 157, 365, 416]
const radialTicks = [100, 250, 500, 750]

// Box plots: [q1, median, q3, lower whisker, upper whisker], points are [jitter, beta]
const groupNames = ['Drug naïve', 'Nonresponder']
const cStats = [[0.1782, 0.1806, 0.1956, 0.1717, 0.216], [0.2248, 0.2373, 0.2468, 0.215, 0.2552]]
const cNaive = [[-0.337, 0.2162], [-0.186, 0.1966], [0.381, 0.1952], [-0.216, 0.1813], [-0.372, 0.1801], [0.028, 0.1786], [0.176, 0.177], [-0.333, 0.1716]]
const cNonresp = [[0.381, 0.2553], [0.077, 0.2532], [-0.292, 0.2529], [0.199, 0.2522], [-0.244, 0.248], [-0.015, 0.2457], [-0.395, 0.2446], [-0.149, 0.2424], [-0.331, 0.2388], [0.141, 0.2373], [-0.117, 0.232], [0.229, 0.2326], [0.047, 0.2294], [0.267, 0.2255], [-0.35, 0.2235], [-0.143, 0.2234], [0.037, 0.2241], [-0.327, 0.2149], [-0.297, 0.215]]
const dStats = [[0.8415, 0.86, 0.8652, 0.8278, 0.8702], [0.7923, 0.8016, 0.8146, 0.7725, 0.825]]
const dNaive = [[-0.248, 0.8702], [-0.135, 0.8656], [0.142, 0.8648], [-0.004, 0.8626], [-0.366, 0.8576], [-0.213, 0.8432], [-0.062, 0.8369], [-0.299, 0.8277]]
const dNonresp = [[-0.286, 0.8252], [-0.182, 0.8243], [0.007, 0.8203], [0.049, 0.8185], [0.044, 0.8172], [-0.035, 0.8119], [0.115, 0.8044], [-0.195, 0.8031], [0.047, 0.8028], [-0.16, 0.8015], [0.004, 0.7998], [-0.016, 0.7968], [-0.177, 0.795], [-0.315, 0.7931], [-0.049, 0.7918], [0.171, 0.7905], [0.016, 0.7881], [0.031, 0.7878], [-0.328, 0.7724]]
const eStats = [[0.65, 0.6791, 0.7065, 0.624, 0.714], [0.5685, 0.5859, 0.5976, 0.5433, 0.6376]]
const eNaive = [[0.199, 0.7143], [-0.321, 0.7069], [-0.325, 0.7059], [0.069, 0.6872], [0.178, 0.671], [-0.101, 0.6505], [0.283, 0.6497], [0.272, 0.6237]]
const eNonresp = [[-0.176, 0.6377], [-0.302, 0.621], [0.154, 0.6205], [-0.002, 0.6055], [0.375, 0.6002], [0.131, 0.595], [0.287, 0.5929], [0.195, 0.5916], [-0.169, 0.5917], [-0.353, 0.5859], [-0.246, 0.5783], [-0.191, 0.5764], [-0.315, 0.5701], [0.259, 0.5686], [0.345, 0.5683], [0.079, 0.5634], [0.216, 0.5577], [-0.362, 0.5523], [-0.392, 0.5433]]

const genomeX = d3.scaleLinear().domain([0, 616]).range([119, 735])

function textWidth(text: string, font: string) {
  const ctx = document.createElement('canvas').getContext('2d')!
  ctx.font = font
  return ctx.measureText(text).width
}

function GeneLabel({ gene, px, py, bx, by }: { gene: string; px: number; py: number; bx: number; by: number }) {
  const w = textWidth(gene, `8.3px ${FONT}`) + 10.5
  const h = 16.4
  // segment runs from the point towards the box centre and stops at the box edge
  const dx = px - bx
  const dy = py - by
  const t = Math.min(w / 2 / Math.max(Math.abs(dx), 0.01), h / 2 / Math.max(Math.abs(dy), 0.01), 1)
  const len = Math.hypot(dx, dy) || 1
  return (
    <g>
      {t < 1 && <line x1={bx + dx * t} y1={by + dy * t} x2={px - (dx / len) * 2.4} y2={py - (dy / len) * 2.4} stroke="#333" strokeWidth={0.7} />}
      <rect x={bx - w / 2} y={by - h / 2} width={w} height={h} rx={2.5} fill="#fff" stroke="#333" strokeWidth={0.7} />
      <text x={bx} y={by + 3} textAnchor="middle" fontSize={8.3} fill="#333">{gene}</text>
    </g>
  )
}

function Manhattan({ y, profile, navy, tan, genes, axisY, flip }: any) {
  const xPos = (vals: number[], seg: number) =>
    d3.scaleLinear().domain([0, vals.length - 1]).range(segRanges[seg])
  const area = (vals: number[], seg: number) => {
    const pos = xPos(vals, seg)
    return d3.area<number>()
      .x((_, i) => genomeX(pos(i)))
      .y0(y(0))
      .y1(d => y(d))
      .curve(d3.curveStep)(vals) as string
  }
  return (
    <g>
      {profile.map((vals: number[], i: number) => {
        const col = segChrom[i] % 2 ? NAVY : TAN
        const pos = xPos(vals, i)
        return (
          <g key={i}>
            <path d={area(vals, i)} fill={col} stroke={col} strokeWidth={1} />
            {vals.map((v, j) => <circle key={j} cx={genomeX(pos(j))} cy={y(v)} r={1.4} fill={col} />)}
          </g>
        )
      })}
      {tan.map((d: number[], i: number) => <circle key={i} cx={genomeX(d[0])} cy={y(d[1])} r={1.3} fill={TAN} />)}
      {navy.map((d: number[], i: number) => <circle key={i} cx={genomeX(d[0])} cy={y(d[1])} r={1.45} fill={NAVY} />)}
      <line x1={119} x2={735} y1={y(5)} y2={y(5)} stroke="#1f1fff" strokeWidth={1.3} />
      <line x1={119} x2={735} y1={y(7.3)} y2={y(7.3)} stroke="#ff3a3a" strokeWidth={1.4} strokeDasharray="5.5 4" />
      {genes.map((g: any) => (
        <GeneLabel key={g[0]} gene={g[0]} px={genomeX(g[1])} py={y(g[2])} bx={genomeX(g[3])} by={y(g[4])} />
      ))}
      {/* axes */}
      <line x1={119} x2={119} y1={axisY} y2={y(8)} stroke="#000" strokeWidth={1.4} />
      <line x1={118.3} x2={735} y1={axisY} y2={axisY} stroke="#000" strokeWidth={1.4} />
      {[0, 2, 4, 6, 8].map(t => (
        <g key={t}>
          <line x1={115.5} x2={119} y1={y(t)} y2={y(t)} stroke="#333" strokeWidth={0.9} />
          <text x={112} y={y(t) + 4} textAnchor="end" fontSize={11.6} fill="#4d4d4d" clipPath="url(#chartClip)">{t}</text>
        </g>
      ))}
      {chromTicks.map(t => (
        <line key={t} x1={genomeX(t)} x2={genomeX(t)} y1={axisY} y2={axisY + (flip ? -3 : 3.5)} stroke="#333" strokeWidth={0.9} />
      ))}
    </g>
  )
}

function CircularBars() {
  const cx = 1194.5
  const cy = 386.5
  const r = d3.scaleLinear().domain([0, 750]).range([167.6, 316.8])
  const step = 360 / 53
  const first = 3.4
  const gapSlots = 5
  const rad = (deg: number) => (deg * Math.PI) / 180
  const slotAngle = (slot: number) => first + slot * step

  const bar = (slot: number, value: number) => {
    const a = slotAngle(slot)
    const w = step * 0.46
    const corners: [number, number][] = [[a - w, r(0)], [a - w, r(value)], [a + w, r(value)], [a + w, r(0)]]
    return d3.lineRadial<[number, number]>()
      .angle(d => rad(d[0]))
      .radius(d => d[1])
      .curve(d3.curveLinearClosed)(corners) as string
  }
  const groupArc = (a: number, b: number) =>
    d3.arc()({ innerRadius: 156.3, outerRadius: 159.9, startAngle: rad(a), endAngle: rad(b) }) as string
  const guide = (a: number, b: number, v: number) =>
    d3.arc()({ innerRadius: r(v) - 0.75, outerRadius: r(v) + 0.75, startAngle: rad(a), endAngle: rad(b) }) as string

  const labelAt = (slot: number, value: number, text: string, offset: number) => {
    const a = slotAngle(slot) % 360
    const right = a < 180
    const [x, y] = d3.pointRadial(rad(a), r(value) + offset)
    return (
      <text key={text} x={x} y={y} dy="0.36em" textAnchor={right ? 'start' : 'end'} fontSize={20} fontWeight="bold" fill="#3b3b3b"
        style={{ whiteSpace: 'pre' }}
        transform={`rotate(${right ? a - 90 : a + 90} ${x} ${y})`}>
        {text}
      </text>
    )
  }

  const cgiStart = 0
  const featureCgiStart = cgiNames.length + gapSlots
  const featureStart = featureCgiStart + featureCgiNames.length + gapSlots

  return (
    <g transform={`translate(${cx},${cy})`}>
      {radialTicks.map(v => (
        <g key={v}>
          <path d={guide(slotAngle(cgiNames.length), slotAngle(featureCgiStart - 1), v)} fill="#c4c4c4" />
          <path d={guide(slotAngle(featureCgiStart + featureCgiNames.length), slotAngle(featureStart - 1), v)} fill="#c4c4c4" />
          <text x={d3.pointRadial(rad(-6), r(v))[0]} y={-r(v) + 4} textAnchor="middle" fontSize={11.5} fontWeight="bold" fill="#111">{v}</text>
        </g>
      ))}
      {featureCounts.map((v, i) => <path key={i} d={bar(featureStart + i, v)} fill="#3F88C2" stroke="#3a4a55" strokeWidth={0.7} />)}
      {cgiCounts.map((v, i) => <path key={i} d={bar(cgiStart + i, v)} fill="#E1ECF8" stroke="#3a4a55" strokeWidth={0.7} />)}
      {featureCgiCounts.map((v, i) => <path key={i} d={bar(featureCgiStart + i, v)} fill="#A6D0E6" stroke="#3a4a55" strokeWidth={0.7} />)}
      {featureNames.map((n, i) => labelAt(featureStart + i, featureCounts[i], n, 0.5))}
      {cgiNames.map((n, i) => labelAt(cgiStart + i, cgiCounts[i], n, 3))}
      {featureCgiNames.map((n, i) => labelAt(featureCgiStart + i, featureCgiCounts[i], n, 3))}
      <path d={groupArc(slotAngle(featureStart), slotAngle(featureStart + 6))} fill="#1a1a1a" />
      <path d={groupArc(slotAngle(cgiStart), slotAngle(cgiStart + 3))} fill="#1a1a1a" />
      <path d={groupArc(slotAngle(featureCgiStart), slotAngle(featureCgiStart + 26))} fill="#1a1a1a" />
      <text x={1115.5 - cx} y={331 - cy} textAnchor="middle" fontSize={26} fontWeight="bold" fill="#000">Feature</text>
      <text x={1220 - cx} y={260 - cy} textAnchor="middle" fontSize={26} fontWeight="bold" fill="#000">cgi</text>
      <text x={1202 - cx} y={509 - cy} textAnchor="middle" fontSize={26} fontWeight="bold" fill="#000">Feature.cgi</text>
    </g>
  )
}

function BoxPanel({ stats, naive, nonresp, title, yTicks, tickFormat, y, centers, axisX, axisTop, axisBottom, axisRight, betaX, betaY, titleX, titleY, labelY }: any) {
  const x = d3.scaleLinear().domain([0, 1]).range(centers)
  const halfWidth = (centers[1] - centers[0]) * 0.373
  const fills = ['#32152F', '#FFA500']
  return (
    <g>
      {stats.map((s: number[], i: number) => (
        <g key={i}>
          <line x1={x(i)} x2={x(i)} y1={y(s[3])} y2={y(s[4])} stroke="#333" strokeWidth={3} />
          <rect x={x(i) - halfWidth} y={y(s[2])} width={halfWidth * 2} height={y(s[0]) - y(s[2])} fill={fills[i]} stroke="#333" strokeWidth={3} />
          <line x1={x(i) - halfWidth} x2={x(i) + halfWidth} y1={y(s[1])} y2={y(s[1])} stroke="#333" strokeWidth={5.5} />
          <line x1={x(i)} x2={x(i)} y1={axisBottom} y2={axisBottom + 3} stroke="#333" strokeWidth={1} />
          <text x={x(i)} y={labelY} textAnchor="middle" fontSize={15} fill="#555">{groupNames[i]}</text>
        </g>
      ))}
      {naive.map((d: number[], i: number) => <circle key={i} cx={x(0 + d[0])} cy={y(d[1])} r={3.4} fill="#000" />)}
      {nonresp.map((d: number[], i: number) => <circle key={i} cx={x(1 + d[0])} cy={y(d[1])} r={3.4} fill="#00008B" />)}
      <line x1={axisX} x2={axisX} y1={axisTop} y2={axisBottom + 1.5} stroke="#000" strokeWidth={3} />
      <line x1={axisX} x2={axisRight} y1={axisBottom} y2={axisBottom} stroke="#000" strokeWidth={3} />
      {yTicks.map((t: number) => (
        <g key={t}>
          <line x1={axisX - 3.5} x2={axisX} y1={y(t)} y2={y(t)} stroke="#333" strokeWidth={1} />
          <text x={axisX - 5.5} y={y(t) + 5} textAnchor="end" fontSize={14.5} fill="#555">{tickFormat(t)}</text>
        </g>
      ))}
      <text transform={`translate(${betaX},${betaY}) rotate(-90)`} textAnchor="middle" fontSize={18.4} fontWeight="bold" fill="#000" dy="0.36em">beta</text>
      <text x={titleX} y={titleY} textAnchor="middle" fontSize={20} fontWeight="bold" fill="#000">{title}</text>
    </g>
  )
}

export default function App() {
  const topY = d3.scaleLinear().domain([0, 8]).range([361, 46.7])
  const bottomY = d3.scaleLinear().domain([0, 8]).range([395.7, 724.3])
  const letter = (t: string, x: number, y: number) => (
    <text x={x} y={y} fontSize={26} fontWeight="bold" fill="#000">{t}</text>
  )
  return (
    <svg width={1537} height={1305} viewBox="0 0 1537 1305" fontFamily={FONT}
      style={{ position: 'absolute', left: 0, top: 0, display: 'block', background: '#fff' }}>
      <defs>
        <clipPath id="chartClip"><rect x={0} y={0} width={1537} height={726} /></clipPath>
      </defs>
      {letter('A', 0, 24)}
      {letter('B', 852, 24)}
      {letter('C', 0, 771)}
      {letter('D', 517, 771)}
      {letter('E', 1050, 771)}

      <Manhattan y={topY} profile={topProfile} navy={topNavy} tan={topTan} genes={topGenes} axisY={367} flip={false} />
      <Manhattan y={bottomY} profile={bottomProfile} navy={bottomNavy} tan={bottomTan} genes={bottomGenes} axisY={389} flip={true} />
      {chromTicks.map((t, i) => (
        <text key={i} x={genomeX(t)} y={383} textAnchor="middle" fontSize={12} fill="#4d4d4d">{chromLabels[i]}</text>
      ))}
      <g fontSize={18.5} fontWeight="bold" fill="#000" textAnchor="middle">
        <text transform="translate(47,204.7) rotate(-90)" dy="0.36em">Positive delta-beta value</text>
        <text transform="translate(79,204.7) rotate(-90)" dy="0.36em">-log10 (Inflation adj. p)</text>
        <text transform="translate(46,545.7) rotate(-90)" dy="0.36em">Negative delta-beta value</text>
        <text transform="translate(79,545.7) rotate(-90)" dy="0.36em">-log10 (Inflation adj. p)</text>
      </g>

      <CircularBars />

      <BoxPanel stats={cStats} naive={cNaive} nonresp={cNonresp} title="cg22118655 (ELFN2)"
        yTicks={[0.18, 0.2, 0.22, 0.24]} tickFormat={d3.format('.2f')}
        y={d3.scaleLinear().domain([0.18, 0.24]).range([1187.5, 886.3])}
        centers={[182.3, 338.3]} axisX={89.3} axisTop={789} axisBottom={1250} axisRight={431}
        betaX={40} betaY={1019} titleX={274} titleY={1291.6} labelY={1267} />
      <BoxPanel stats={dStats} naive={dNaive} nonresp={dNonresp} title="cg11415852 (SORBS1)"
        yTicks={[0.775, 0.8, 0.825, 0.85, 0.875]} tickFormat={d3.format('.3f')}
        y={d3.scaleLinear().domain([0.775, 0.875]).range([1217.3, 792.5])}
        centers={[696.7, 847]} axisX={606.7} axisTop={791.8} axisBottom={1248.4} axisRight={936.7}
        betaX={550} betaY={1019.7} titleX={809.2} titleY={1289.8} labelY={1265} />
      <BoxPanel stats={eStats} naive={eNaive} nonresp={eNonresp} title="cg08213398 (SWAP70)"
        yTicks={[0.55, 0.6, 0.65, 0.7]} tickFormat={d3.format('.2f')}
        y={d3.scaleLinear().domain([0.55, 0.7]).range([1215.5, 847.3])}
        centers={[1221.3, 1377]} axisX={1128} axisTop={791.8} axisBottom={1252.7} axisRight={1470}
        betaX={1078} betaY={1022.6} titleX={1331.7} titleY={1294.4} labelY={1268.6} />
    </svg>
  )
}
